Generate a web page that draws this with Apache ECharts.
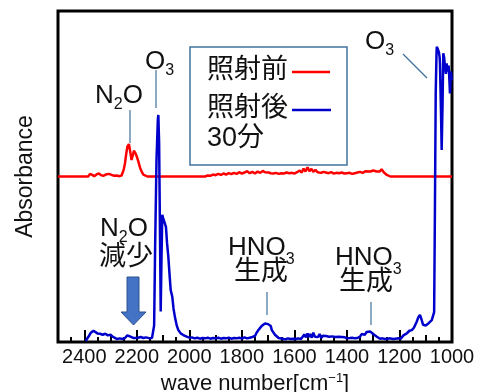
<!DOCTYPE html>
<html><head><meta charset="utf-8">
<script src="https://cdn.jsdelivr.net/npm/echarts@6/dist/echarts.min.js"></script>
<style>html,body{margin:0;padding:0;background:#fff}#c{width:485px;height:392px}</style>
</head><body><div id="c"></div>
<script>
// ---- data ----
const xTickLabels = [2400, 2200, 2000, 1800, 1600, 1400, 1200, 1000];
const seriesNames = ['照射前', '照射後30分'];
// before irradiation (red)
const redWave = [2500,2400,2385,2378,2370,2362,2352,2344,2336,2328,2318,2306,2296,2286,2276,2266,2258,2250,2245,2240,2236,2230,2225,2220,2215,2211,2205,2199,2194,2187,2181,2175,2169,2160,
 1940,1930,1920,1910,1900,1890,1880,1870,1860,1850,1840,1830,1820,1810,1800,1790,1780,1770,1760,1750,1740,1730,1720,1712,1705,1698,1690,1680,1670,1660,1650,1640,1630,1620,1610,1600,1590,1580,1572,1565,1558,1550,1543,1535,1528,1520,1512,1505,1498,1490,1480,1470,1460,1450,1440,1430,1420,1410,1400,1390,1380,1370,1360,1350,1340,1330,1324,1310,1300,1293,1287,1282,1275,1268,1260,1250,1244,1235,1065,1062,1058,1000];
const redAbs = [50,50,50,50.8,50.5,50.1,50.7,50.9,50.4,50.2,50.6,50.8,50.5,50.2,50.3,50.1,50.3,52,54,57,59,59.8,57.5,55,56.5,57.8,57,55.8,54.5,52.5,51.4,50.6,50.2,50,
 50,50.3,50.2,50.6,50.4,50.8,50.5,50.9,50.6,51,50.7,51.1,50.8,51.3,50.9,51.2,51.6,51,51.4,50.9,51.5,51.1,51.7,51.3,51.8,51.2,51,50.9,51.1,50.8,51,50.9,51.2,51,51.1,50.9,51.3,51.8,51.2,52.4,51.5,52.8,51.6,52.3,51.4,52,51.3,51.7,51.1,51.4,51.2,51,51.3,50.9,51.1,51,51.2,50.9,51,51.1,50.8,51,51.2,51.4,51.1,51.6,51.2,51.5,51.8,52.3,51.5,50.9,51.5,52.2,51.3,50.6,50.1,50,50,50.4,50,50];
// after 30 min irradiation (blue)
const blueWave = [2395,2385,2375,2365,2358,2350,2340,2330,2320,2310,2300,2292,2285,2275,2265,2255,2245,2236,2230,2224,2218,2212,2205,2195,2185,2175,2165,2150,2142,2137,2134,2130,2125,2120,2118,2115,2112,2109,2106,2103,2100,2096,2092,2089,2085,2080,2075,2071,2065,2060,2055,2048,2042,2033,2023,2010,
 2000,1990,1980,1970,1960,1950,1940,1930,1920,1910,1900,1890,1880,1870,1860,1850,1840,1830,1820,1810,1800,1790,1780,1770,1760,1750,1744,1737,1731,1725,1718,1712,1706,1700,1696,1690,1686,1680,1674,1667,1660,1655,1645,1635,1625,1615,1605,1595,1585,1575,1568,1562,1556,1550,1545,1540,1534,1528,1522,1516,1510,1504,1498,1492,1486,1480,1474,1468,1462,1456,1450,1444,1438,1432,1426,1420,1414,1408,1400,1394,1388,1380,1370,1360,1350,1344,1338,1332,1325,1319,1312,1306,1300,1293,1286,1280,1274,1265,1255,1245,1235,1225,1215,1205,1195,1185,1172,1162,1153,1145,1141,1134,1128,1122,1116,1110,1106,1100,1096,1090,1083,1077,1071,1068,1065,1062,1059,1058,1054,1050,1047,1045.8,1042,1039.3,1036,1033.2,1030,1026.7,1023,1020.3,1016.5,1013,1011.5,1007.7,1004,1001.3,1000];
const blueAbs = [0.3,1.5,2.8,3.4,3.2,2.6,2.5,2.2,2.5,2.0,2.2,1.6,1.0,0.9,1.1,0.9,1.2,2.0,2.3,1.6,1.8,1.2,1.5,1.3,1.5,1.2,1.4,1.1,1.3,1.3,5,30,55,67,68.6,60,35,9.2,25,38.4,37.5,36.9,35.5,34.8,30,25.8,20,15.7,13.7,10,7.6,5,3.6,2.6,2.1,1.6,
 1.3,1.4,1.1,1.3,1.0,1.2,1.1,1.3,1.0,1.2,1.1,1.3,1.0,1.2,1.1,1.3,1.0,1.2,1.1,1.3,1.0,1.4,1.1,1.3,1.5,1.8,2.8,3.6,4.2,4.8,5.3,5.6,6.1,5.4,5.6,4.8,3.6,3.0,2.2,1.8,1.2,0.9,1.0,0.8,1.1,0.9,1.0,0.9,1.1,0.9,1.2,2.3,1.4,2.6,1.5,2.4,1.3,2.8,1.6,2.2,1.5,2.4,1.2,1.9,1.4,1.8,1.2,1.6,1.3,1.7,1.2,1.5,1.3,1.6,1.1,1.5,1.2,1.4,1.1,1.6,1.2,1.3,1.1,1.2,1.6,2.4,2.6,2.2,3.0,3.4,3.2,3.0,2.4,2.0,1.6,1.2,1.0,1.1,0.9,1.0,1.1,0.9,1.0,1.1,1.0,2.0,2.6,3.4,3.6,4.3,4.6,6.2,7.5,8.2,6.8,5.2,4.6,5.0,5.4,5.6,6.0,6.6,7.0,9,40,75,87,89.2,88.5,87.6,86,84,70,58,72,87.2,86,83.2,81,84.2,81.7,83.5,82,75.1,81.7,79.3,79];

const zip = (a, b) => a.map((v, i) => [v, b[i]]);

// ---- chart ----
const FONT = "'Liberation Sans','Noto Sans CJK JP',sans-serif";
const TXT = '#111';
const CONN = '#41719c';
const chart = echarts.init(document.getElementById('c'), null, {renderer: 'canvas'});

function xAx(interval, len, labels) {
  return {
    type: 'value', min: 1000, max: 2500, interval: interval, inverse: true,
    position: 'bottom', gridIndex: 0,
    axisLine: {show: false},
    splitLine: {show: false},
    axisTick: {show: true, inside: true, length: len, lineStyle: {color: '#000', width: 2}},
    axisLabel: labels ? {
      show: true, margin: 5, color: TXT, fontSize: 20, fontFamily: FONT,
      formatter: v => xTickLabels.includes(v) ? String(v) : ''
    } : {show: false},
    name: labels ? '{a|wave number[cm}{s|−1}{a|]}' : '',
    nameLocation: 'middle', nameGap: 23,
    nameTextStyle: labels ? {
      color: TXT, fontFamily: FONT,
      rich: {
        a: {fontSize: 22, fontFamily: FONT, color: TXT, lineHeight: 25},
        s: {fontSize: 13, fontFamily: FONT, color: TXT, lineHeight: 13, verticalAlign: 'top'}
      }
    } : {}
  };
}

function ann(x, y, text, lh) {
  return {
    type: 'text', x: x, y: y, z: 100,
    style: {
      text: text, x: 0, y: 0, align: 'left', verticalAlign: 'middle', fill: TXT,
      font: '26px ' + FONT,
      rich: {
        m: {fontSize: 26, fontFamily: FONT, fill: TXT, color: TXT, lineHeight: lh},
        s: {fontSize: 16, fontFamily: FONT, fill: TXT, color: TXT, lineHeight: 16, verticalAlign: 'bottom'}
      }
    }
  };
}
function cjk(x, y, text, align) {
  return {
    type: 'text', x: x, y: y, z: 100,
    style: {text: text, align: align || 'left', verticalAlign: 'middle', fill: TXT, font: '27px ' + FONT}
  };
}
function seg(x1, y1, x2, y2, color, w) {
  return {type: 'line', z: 100, shape: {x1, y1, x2, y2}, style: {stroke: color, lineWidth: w}};
}

const option = {
  animation: false,
  backgroundColor: '#fff',
  grid: {left: 58, right: 33, top: 11, bottom: 50, show: true, borderColor: '#000', borderWidth: 3,
         backgroundColor: 'transparent', containLabel: false, outerBoundsMode: 'none'},
  xAxis: [xAx(200, 12, true), xAx(100, 7, false), xAx(50, 5, false)],
  yAxis: {
    type: 'value', min: 0, max: 100,
    axisLine: {show: false}, axisTick: {show: false}, axisLabel: {show: false}, splitLine: {show: false},
    name: 'Absorbance', nameLocation: 'middle', nameGap: 21, nameRotate: 90,
    nameTextStyle: {fontSize: 23, fontFamily: FONT, color: TXT}
  },
  series: [
    {name: seriesNames[0], type: 'line', data: zip(redWave, redAbs), showSymbol: false, symbol: 'none',
     lineStyle: {color: '#ff0000', width: 2.5}, itemStyle: {color: '#ff0000'}, z: 2},
    {name: seriesNames[1], type: 'line', data: zip(blueWave, blueAbs), showSymbol: false, symbol: 'none',
     lineStyle: {color: '#0000cc', width: 2.5}, itemStyle: {color: '#0000cc'}, z: 3}
  ],
  graphic: [
    // legend box
    {type: 'rect', z: 90, shape: {x: 190, y: 47, width: 157, height: 118}, style: {fill: '#fff', stroke: CONN, lineWidth: 1.5}},
    cjk(207, 71, '照射前'),
    seg(292, 72, 330, 72, '#ff0000', 2.5),
    cjk(207, 109, '照射後'),
    seg(292, 110, 331, 110, '#0000cc', 2.5),
    cjk(207, 139, '30分'),
    // O3 (left)
    ann(145, 62, '{m|O}{s|3}', 34),
    seg(156, 70, 156, 108, CONN, 1.2),
    // N2O (top)
    ann(95, 96, '{m|N}{s|2}{m|O}', 34),
    seg(130, 110, 130, 143, CONN, 1.2),
    // O3 (right)
    ann(365, 42, '{m|O}{s|3}', 34),
    seg(403, 54, 427, 78, CONN, 1.2),
    // N2O decrease
    ann(100, 229, '{m|N}{s|2}{m|O}', 34),
    cjk(126, 258, '減少', 'center'),
    {type: 'polygon', z: 100, shape: {points: [[127, 277], [139, 277], [139, 312], [146, 312], [133.5, 325], [121, 312], [127, 312]]},
     style: {fill: '#4472c4', stroke: '#2f528f', lineWidth: 1}},
    // HNO3 (left)
    ann(228, 248, '{m|HNO}{s|3}', 40),
    cjk(261, 273, '生成', 'center'),
    seg(267, 292, 267, 315, CONN, 1.2),
    // HNO3 (right)
    ann(335, 258, '{m|HNO}{s|3}', 40),
    cjk(366, 283, '生成', 'center'),
    seg(371, 302, 371, 325, CONN, 1.2)
  ]
};
chart.setOption(option);
</script>
</body></html>
